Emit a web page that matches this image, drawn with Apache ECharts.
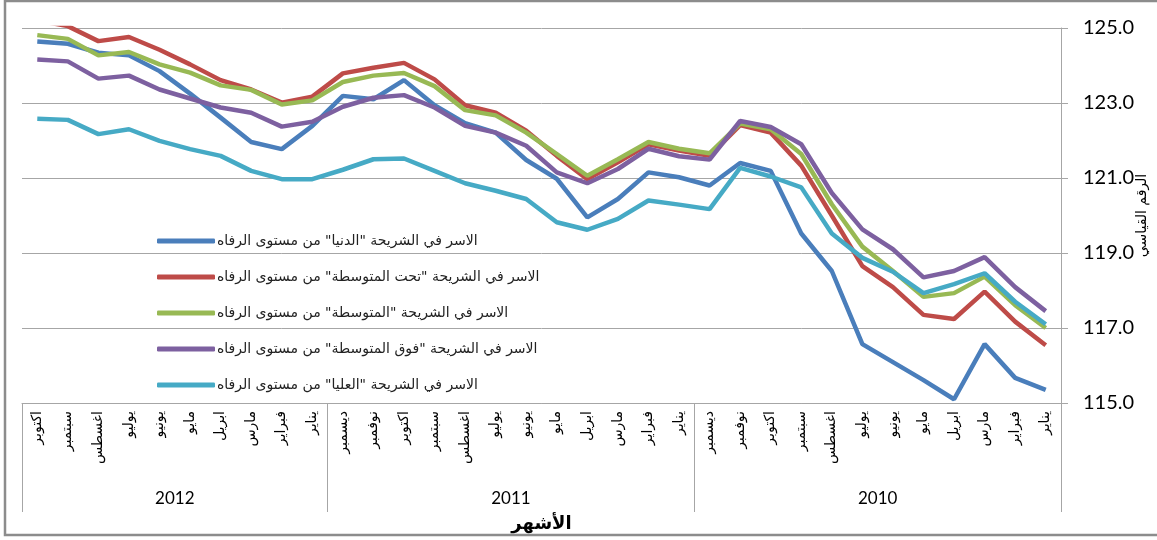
<!DOCTYPE html>
<html lang="ar">
<head>
  <meta charset="UTF-8">
  <title>الرقم القياسي حسب شرائح الرفاه</title>
  <style>
    html, body { margin: 0; padding: 0; background: #fff; }
    #main { width: 1157px; height: 540px; }
  </style>
</head>
<body>
<div id="main"></div>
<script src="https://cdn.jsdelivr.net/npm/echarts@6/dist/echarts.min.js"></script>
<script>
  // months Jan 2010 -> Oct 2012 (axis is inverted, so 2010 sits on the right)
  var monthNames = ['يناير', 'فبراير', 'مارس', 'ابريل', 'مايو', 'يونيو', 'يوليو', 'اغسطس', 'سبتمبر', 'اكتوبر', 'نوفمبر', 'ديسمبر'];
  var years = ['2010', '2011', '2012'];
  var monthsInYear = [12, 12, 10];

  var seriesNames = [
    'الاسر في الشريحة "الدنيا" من مستوى الرفاه',
    'الاسر في الشريحة "تحت المتوسطة" من مستوى الرفاه',
    'الاسر في الشريحة "المتوسطة" من مستوى الرفاه',
    'الاسر في الشريحة "فوق المتوسطة" من مستوى الرفاه',
    'الاسر في الشريحة "العليا" من مستوى الرفاه'
  ];
  var lowest = [115.35, 115.67, 116.57, 115.10, 115.61, 116.09, 116.57, 118.52, 119.52, 121.19, 121.40, 120.80,
    121.02, 121.15, 120.44, 119.95, 120.98, 121.48, 122.21, 122.46, 122.94, 123.61, 123.10, 123.19,
    122.39, 121.77, 121.96, 122.61, 123.25, 123.85, 124.27, 124.34, 124.58, 124.64];
  var belowMiddle = [116.54, 117.17, 117.97, 117.24, 117.35, 118.09, 118.65, 120.00, 121.33, 122.21, 122.41, 121.59,
    121.73, 121.90, 121.42, 120.97, 121.59, 122.26, 122.74, 122.94, 123.63, 124.07, 123.94, 123.79,
    123.17, 123.01, 123.36, 123.61, 124.03, 124.42, 124.76, 124.65, 125.05, 125.20];
  var middle = [117.00, 117.61, 118.37, 117.93, 117.83, 118.52, 119.17, 120.30, 121.64, 122.30, 122.45, 121.66,
    121.78, 121.96, 121.50, 121.06, 121.64, 122.21, 122.67, 122.81, 123.45, 123.80, 123.73, 123.56,
    123.07, 122.96, 123.35, 123.47, 123.81, 124.03, 124.36, 124.27, 124.71, 124.81];
  var aboveMiddle = [117.45, 118.09, 118.89, 118.52, 118.35, 119.10, 119.63, 120.60, 121.90, 122.36, 122.52, 121.49,
    121.58, 121.78, 121.24, 120.86, 121.15, 121.86, 122.21, 122.39, 122.88, 123.21, 123.14, 122.90,
    122.50, 122.37, 122.74, 122.88, 123.12, 123.36, 123.73, 123.65, 124.11, 124.16];
  var highest = [117.10, 117.70, 118.46, 118.17, 117.93, 118.50, 118.87, 119.52, 120.75, 121.04, 121.27, 120.17,
    120.29, 120.40, 119.91, 119.62, 119.82, 120.44, 120.66, 120.86, 121.19, 121.52, 121.50, 121.22,
    120.97, 120.97, 121.19, 121.59, 121.77, 121.99, 122.30, 122.17, 122.55, 122.58];

  var colors = ['#4A7EBB', '#BE4B48', '#98B954', '#7D60A0', '#46AAC5'];
  var values = [lowest, belowMiddle, middle, aboveMiddle, highest];

  var categories = [];
  var yearEdges = [0];
  var yearMids = [];
  for (var y = 0; y < years.length; y++) {
    for (var m = 0; m < monthsInYear[y]; m++) categories.push(monthNames[m]);
    var start = yearEdges[yearEdges.length - 1];
    yearEdges.push(start + monthsInYear[y]);
    yearMids.push(start + monthsInYear[y] / 2);
  }

  var arFont = 'DejaVu Sans';
  var numFont = 'Lato, DejaVu Sans';
  var gray = '#a6a6a6';

  var chart = echarts.init(document.getElementById('main'));
  chart.setOption({
    animation: false,
    graphic: [{
      type: 'rect',
      shape: { x: 5, y: 1, width: 1170, height: 534 },
      style: { fill: 'none', stroke: '#8c8c8c', lineWidth: 2.5 },
      silent: true
    }],
    grid: { left: 22, right: 96, top: 28, bottom: 137, outerBoundsMode: 'none' },
    legend: {
      orient: 'vertical',
      left: 152,
      top: 229,
      icon: 'roundRect',
      itemWidth: 58,
      itemHeight: 5,
      itemGap: 22,
      textStyle: { fontFamily: arFont, fontSize: 14, color: '#222', padding: [0, 0, 0, -3] },
      data: seriesNames
    },
    xAxis: [{
      type: 'category',
      data: categories,
      inverse: true,
      boundaryGap: true,
      axisLine: { lineStyle: { color: gray } },
      axisTick: { interval: 0, length: 69, lineStyle: { color: gray } },
      axisLabel: { interval: 0, rotate: 90, margin: 8, fontFamily: arFont, fontSize: 14, color: '#000' },
      name: 'الأشهر',
      nameLocation: 'middle',
      nameGap: 112,
      nameMoveOverlap: false,
      nameTextStyle: { fontFamily: arFont, fontSize: 18, fontWeight: 'bold', color: '#000' }
    }, {
      type: 'value',
      min: 0,
      max: categories.length,
      inverse: true,
      position: 'bottom',
      axisLine: { show: false },
      splitLine: { show: false },
      axisTick: { show: true, customValues: yearEdges, length: 109, lineStyle: { color: gray } },
      axisLabel: {
        customValues: yearMids,
        margin: 87,
        fontFamily: numFont,
        fontSize: 17,
        color: '#000',
        formatter: function (v) { return years[yearMids.indexOf(v)]; }
      }
    }],
    yAxis: {
      type: 'value',
      position: 'right',
      min: 115,
      max: 125,
      interval: 2,
      axisLine: { show: true, lineStyle: { color: gray } },
      axisTick: { show: true, length: 7, lineStyle: { color: gray } },
      splitLine: { lineStyle: { color: gray, width: 1 } },
      axisLabel: {
        margin: 22,
        fontFamily: numFont,
        fontSize: 20,
        color: '#000',
        formatter: function (v) { return v.toFixed(1); }
      },
      name: 'الرقم القياسي',
      nameLocation: 'middle',
      nameRotate: 90,
      nameGap: 74,
      nameMoveOverlap: false,
      nameTextStyle: { fontFamily: arFont, fontSize: 14, color: '#000' }
    },
    series: seriesNames.map(function (name, i) {
      return {
        name: name,
        type: 'line',
        data: values[i],
        symbol: 'none',
        clip: true,
        color: colors[i],
        lineStyle: { width: 4.5, color: colors[i] }
      };
    })
  });
</script>
</body>
</html>
